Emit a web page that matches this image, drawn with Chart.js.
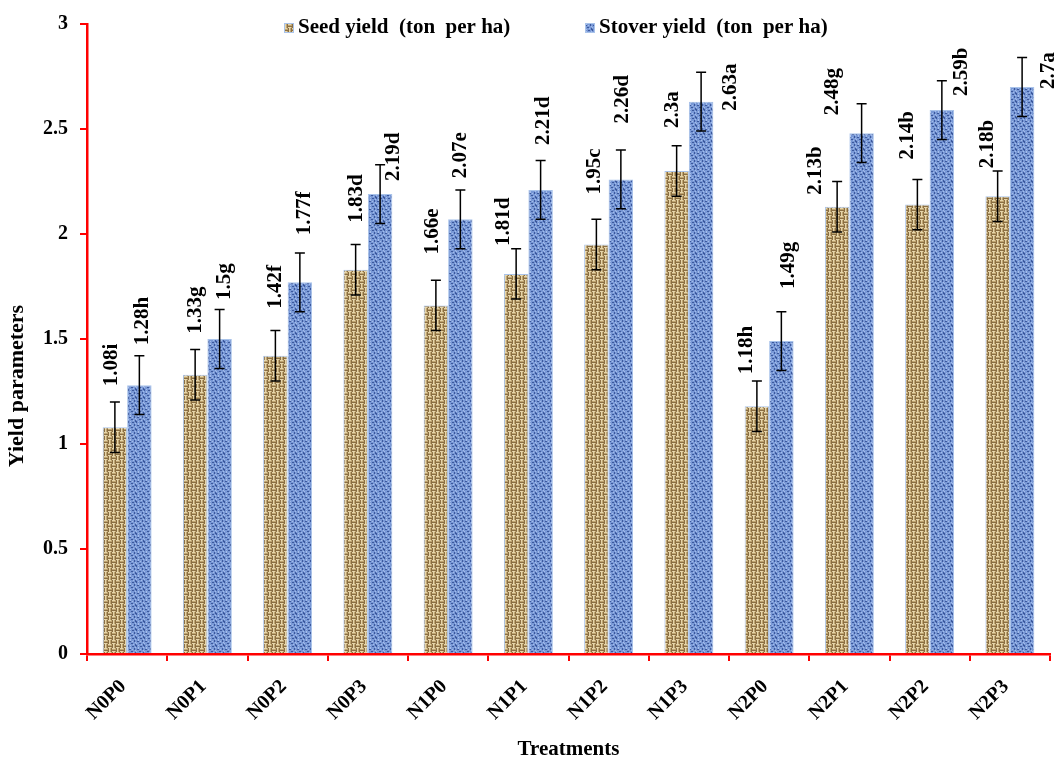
<!DOCTYPE html>
<html>
<head>
<meta charset="utf-8">
<title>Yield parameters by treatment</title>
<script src="https://cdn.jsdelivr.net/npm/chart.js@4.4.0/dist/chart.umd.min.js"></script>
<style>
  html, body { margin: 0; padding: 0; background: #ffffff; }
  #wrap { width: 1057px; height: 762px; }
</style>
</head>
<body>
<div id="wrap"><canvas id="c" width="1057" height="762"></canvas></div>
<script>
// ---- data ----
const treatments = ['N0P0', 'N0P1', 'N0P2', 'N0P3', 'N1P0', 'N1P1', 'N1P2', 'N1P3', 'N2P0', 'N2P1', 'N2P2', 'N2P3'];
const seedYield = [1.08, 1.33, 1.42, 1.83, 1.66, 1.81, 1.95, 2.3, 1.18, 2.13, 2.14, 2.18];
const stoverYield = [1.28, 1.5, 1.77, 2.19, 2.07, 2.21, 2.26, 2.63, 1.49, 2.48, 2.59, 2.7];
const seedError = [0.12, 0.12, 0.12, 0.12, 0.12, 0.12, 0.12, 0.12, 0.12, 0.12, 0.12, 0.12];
const stoverError = [0.14, 0.14, 0.14, 0.14, 0.14, 0.14, 0.14, 0.14, 0.14, 0.14, 0.14, 0.14];
const seedLetters = ['i', 'g', 'f', 'd', 'e', 'd', 'c', 'a', 'h', 'b', 'b', 'b'];
const stoverLetters = ['h', 'g', 'f', 'd', 'e', 'd', 'd', 'a', 'g', 'g', 'b', 'a'];
const yTickValues = [0, 0.5, 1, 1.5, 2, 2.5, 3];
const seriesNames = ['Seed yield  (ton  per ha)', 'Stover yield  (ton  per ha)'];
const xTitle = 'Treatments';
const yTitle = 'Yield parameters';

// ---- label placement (px): sideways shift from the bar centre, gap from bar top to text start ----
const seedLabelShift = [-3, 0, 0, 1, -3, -13, -2, -4, -10, -22, -10, -10];
const seedLabelGap = [41, 41, 47, 47, 51, 28, 50, 43, 32, 12, 45, 28];
const stoverLabelShift = [3, 5, 5, 13, 0, 3, 2, 29, 7, -29, 20, 26];
const stoverLabelGap = [40, 39, 47, 13, 41, 45, 56, -9, 52, 18, 14, -2];

const FONT = "'Liberation Serif', 'Times New Roman', serif";

// ---- fill textures ----
function makeTile(rows, palette) {
  const cv = document.createElement('canvas');
  cv.width = rows[0].length; cv.height = rows.length;
  const cx = cv.getContext('2d');
  for (let y = 0; y < rows.length; y++) {
    for (let x = 0; x < rows[y].length; x++) {
      cx.fillStyle = palette[rows[y][x]];
      cx.fillRect(x, y, 1, 1);
    }
  }
  return cv;
}
// woven burlap: alternating blocks of horizontal and vertical strands
const burlapTile = makeTile([
  'LLLMDLMD',
  'MMMMDLMD',
  'DDDDDLMD',
  'LLLMDLMD',
  'DLMDLLLM',
  'DLMDMMMM',
  'DLMDDDDD',
  'DLMDLLLM'
], { L: '#e6d5aa', M: '#bfa571', D: '#8a6e42' });
// speckled blue weave
const blueTile = makeTile([
  'BBLBBBDB',
  'BDDBLBDB',
  'BBBBBBBL',
  'LBBDDBBB',
  'BBBBBLBD',
  'DBLBBBBD',
  'DBBBDDBB',
  'BBLBBBBL'
], { B: '#7898d6', L: '#a5bdea', D: '#3c589c' });

const ctx0 = document.getElementById('c').getContext('2d');
const seedFill = ctx0.createPattern(burlapTile, 'repeat');
const stoverFill = ctx0.createPattern(blueTile, 'repeat');

// ---- error bars ----
const errorBarPlugin = {
  id: 'errorBars',
  afterDatasetsDraw(chart) {
    const { ctx, scales: { y } } = chart;
    const errs = [seedError, stoverError];
    ctx.save();
    ctx.strokeStyle = '#000000';
    ctx.lineWidth = 1.5;
    chart.data.datasets.forEach((ds, di) => {
      const meta = chart.getDatasetMeta(di);
      meta.data.forEach((bar, i) => {
        const v = ds.data[i];
        const e = errs[di][i];
        const top = y.getPixelForValue(v + e);
        const bot = y.getPixelForValue(v - e);
        const x = bar.x;
        ctx.beginPath();
        ctx.moveTo(x, top); ctx.lineTo(x, bot);
        ctx.moveTo(x - 5, top); ctx.lineTo(x + 5, top);
        ctx.moveTo(x - 5, bot); ctx.lineTo(x + 5, bot);
        ctx.stroke();
      });
    });
    ctx.restore();
  }
};

// ---- rotated value labels ----
const valueLabelPlugin = {
  id: 'valueLabels',
  afterDatasetsDraw(chart) {
    const { ctx, scales: { y } } = chart;
    const letters = [seedLetters, stoverLetters];
    const shifts = [seedLabelShift, stoverLabelShift];
    const gaps = [seedLabelGap, stoverLabelGap];
    ctx.save();
    ctx.fillStyle = '#000000';
    ctx.font = 'bold 21px ' + FONT;
    ctx.textAlign = 'left';
    ctx.textBaseline = 'middle';
    chart.data.datasets.forEach((ds, di) => {
      const meta = chart.getDatasetMeta(di);
      meta.data.forEach((bar, i) => {
        const v = ds.data[i];
        const txt = String(v) + letters[di][i];
        const x = bar.x + shifts[di][i];
        const yy = y.getPixelForValue(v) - gaps[di][i];
        ctx.save();
        ctx.translate(x, yy);
        ctx.rotate(-Math.PI / 2);
        ctx.fillText(txt, 0, 0);
        ctx.restore();
      });
    });
    ctx.restore();
  }
};

// ---- legend inside the plot area and the vertical axis title ----
const annotationPlugin = {
  id: 'legendAndTitle',
  afterDraw(chart) {
    const { ctx } = chart;
    const items = [
      { x: 284, fill: seedFill, text: seriesNames[0] },
      { x: 585, fill: stoverFill, text: seriesNames[1] }
    ];
    const cy = 28;
    ctx.save();
    ctx.font = 'bold 21px ' + FONT;
    ctx.textBaseline = 'middle';
    ctx.textAlign = 'left';
    items.forEach(it => {
      ctx.fillStyle = it.fill;
      ctx.fillRect(it.x, cy - 5, 10, 10);
      ctx.strokeStyle = '#a9c3ea';
      ctx.lineWidth = 1;
      ctx.strokeRect(it.x + 0.5, cy - 4.5, 9, 9);
      ctx.fillStyle = '#000000';
      ctx.fillText(it.text, it.x + 14, cy);
    });
    // y-axis title, set a little below the middle of the axis
    ctx.font = 'bold 22px ' + FONT;
    ctx.textAlign = 'center';
    ctx.translate(17, 386);
    ctx.rotate(-Math.PI / 2);
    ctx.fillText(yTitle, 0, 0);
    ctx.restore();
  }
};

new Chart(document.getElementById('c'), {
  type: 'bar',
  data: {
    labels: treatments,
    datasets: [
      {
        label: seriesNames[0],
        data: seedYield,
        backgroundColor: seedFill,
        borderColor: '#a9c3ea',
        borderWidth: 1,
        categoryPercentage: 0.61,
        barPercentage: 1.0
      },
      {
        label: seriesNames[1],
        data: stoverYield,
        backgroundColor: stoverFill,
        borderColor: '#a9c3ea',
        borderWidth: 1,
        categoryPercentage: 0.61,
        barPercentage: 1.0
      }
    ]
  },
  options: {
    responsive: false,
    animation: false,
    devicePixelRatio: 1,
    layout: { padding: { top: 20, right: 7, bottom: 0, left: 0 } },
    plugins: {
      legend: { display: false },
      tooltip: { enabled: false }
    },
    scales: {
      x: {
        offset: true,
        grid: {
          display: true,
          offset: true,
          drawOnChartArea: false,
          drawTicks: true,
          tickLength: 7,
          color: '#ff0000',
          lineWidth: 2
        },
        border: { display: true, color: '#ff0000', width: 2.5 },
        ticks: {
          color: '#000000',
          font: { family: FONT, size: 20, weight: 'bold' },
          minRotation: 45,
          maxRotation: 45,
          padding: 14,
          labelOffset: -4
        },
        title: {
          display: true,
          text: xTitle,
          color: '#000000',
          font: { family: FONT, size: 21, weight: 'bold' },
          padding: { top: 0, bottom: 0 }
        },
        afterFit(scale) { scale.height = 108; }
      },
      y: {
        min: 0,
        max: 3,
        afterBuildTicks(scale) { scale.ticks = yTickValues.map(v => ({ value: v })); },
        grid: {
          display: true,
          drawOnChartArea: false,
          drawTicks: true,
          tickLength: 7,
          color: '#ff0000',
          lineWidth: 2
        },
        border: { display: true, color: '#ff0000', width: 2.5 },
        ticks: {
          color: '#000000',
          font: { family: FONT, size: 20, weight: 'bold' },
          padding: 12,
          callback: v => String(v)
        },
        afterFit(scale) { scale.width = 87; }
      }
    }
  },
  plugins: [errorBarPlugin, valueLabelPlugin, annotationPlugin]
});
</script>
</body>
</html>
